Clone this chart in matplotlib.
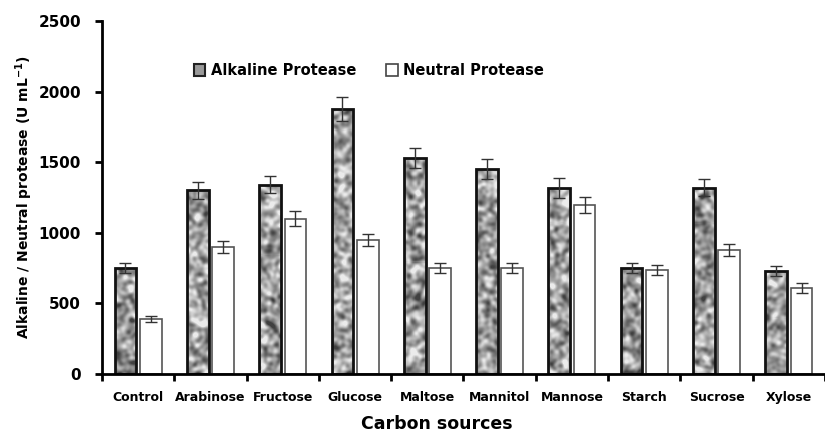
import numpy as np
import matplotlib
matplotlib.use("Agg")
import matplotlib.pyplot as plt
from matplotlib.patches import Patch

# data
carbon_sources = ['Control', 'Arabinose', 'Fructose', 'Glucose', 'Maltose',
                  'Mannitol', 'Mannose', 'Starch', 'Sucrose', 'Xylose']
alkaline = [750, 1300, 1340, 1880, 1530, 1450, 1320, 750, 1320, 730]
alkaline_err = [35, 60, 60, 85, 70, 70, 70, 33, 62, 35]
neutral = [390, 900, 1100, 950, 750, 750, 1200, 735, 880, 610]
neutral_err = [20, 45, 55, 45, 33, 33, 57, 37, 42, 33]
yticks = [0, 500, 1000, 1500, 2000, 2500]


def make_texture(h, w, seed=7):
    # mottled grey fill, purely decorative
    rng = np.random.default_rng(seed)
    noise = rng.standard_normal((h, w))
    fy = np.fft.fftfreq(h)[:, None]
    fx = np.fft.fftfreq(w)[None, :]
    kernel = np.exp(-(fx ** 2 + fy ** 2) * (2 * np.pi * 2.0) ** 2 / 2)
    sm = np.real(np.fft.ifft2(np.fft.fft2(noise) * kernel))
    sm = (sm - sm.mean()) / sm.std()
    return np.clip(0.62 + 0.15 * sm, 0.25, 0.92)


fig = plt.figure(figsize=(8.25, 4.34), dpi=100)
ax = fig.add_axes([0.1236, 0.1382, 0.8764, 0.8134])

x = np.arange(len(carbon_sources))
width = 0.30
off = 0.175
xlim = (-0.5, 9.38)
ylim = (0, 2500)

tex = make_texture(353, 723)

# alkaline bars: texture clipped to each bar, then the outline
bars_a = ax.bar(x - off, alkaline, width, facecolor='none', edgecolor='none', zorder=1)
for b in bars_a:
    im = ax.imshow(tex, cmap='gray', vmin=0, vmax=1, extent=(*xlim, *ylim),
                   aspect='auto', interpolation='nearest', zorder=1)
    im.set_clip_path(b)
ax.bar(x - off, alkaline, width, facecolor='none', edgecolor='#111111',
       linewidth=2, zorder=2)
ax.errorbar(x - off, alkaline, yerr=alkaline_err, fmt='none', ecolor='#333333',
            elinewidth=1, capsize=4, capthick=1, zorder=3)

ax.bar(x + off, neutral, width, facecolor='white', edgecolor='#555555',
       linewidth=1.2, zorder=2)
ax.errorbar(x + off, neutral, yerr=neutral_err, fmt='none', ecolor='#333333',
            elinewidth=1, capsize=4, capthick=1, zorder=3)

ax.set_xlim(*xlim)
ax.set_ylim(*ylim)

ax.spines['top'].set_visible(False)
ax.spines['right'].set_visible(False)
ax.spines['left'].set_linewidth(2)
ax.spines['bottom'].set_linewidth(2)

ax.set_yticks(yticks)
ax.set_yticklabels([str(t) for t in yticks], fontsize=11, fontweight='bold')
ax.tick_params(axis='y', length=5, width=2, pad=10)

ax.set_xticks(x)
ax.set_xticklabels(carbon_sources, fontsize=9, fontweight='bold')
ax.set_xticks(np.arange(-0.5, 9.6, 1.0), minor=True)
ax.tick_params(axis='x', which='major', length=0, pad=12)
ax.tick_params(axis='x', which='minor', length=5, width=2)

ax.set_xlabel('Carbon sources', fontsize=12.5, fontweight='bold')
ax.xaxis.set_label_coords(0.463, -0.115)
ax.set_ylabel('Alkaline / Neutral protease (U mL$^{\\mathbf{-1}}$)',
              fontsize=10, fontweight='bold')
ax.yaxis.set_label_coords(-0.093, 0.5)

handles = [Patch(facecolor='#9a9a9a', edgecolor='#222222', linewidth=1.5),
           Patch(facecolor='white', edgecolor='#444444', linewidth=1.2)]
ax.legend(handles, ['Alkaline Protease', 'Neutral Protease'], ncol=2,
          frameon=False, loc='upper left', bbox_to_anchor=(0.219, 0.885),
          bbox_transform=fig.transFigure, handlelength=0.8, handleheight=0.8,
          handletextpad=0.4, columnspacing=2.0,
          prop={'size': 10.5, 'weight': 'bold'})

fig.savefig('out.png', dpi=100)
